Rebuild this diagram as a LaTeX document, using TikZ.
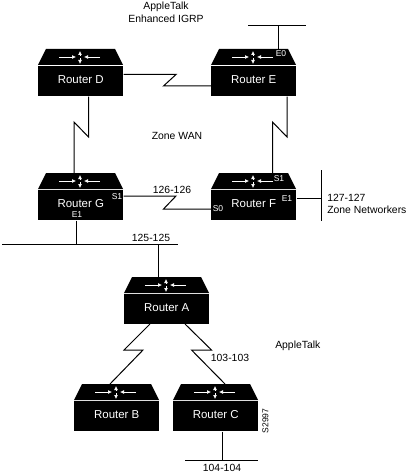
\documentclass[tikz,border=0pt]{standalone}
\usepackage{fontspec}
\setmainfont{Liberation Sans}
\usetikzlibrary{arrows.meta}
\tikzset{
  x=0.75pt,y=-0.75pt,
  link/.style={draw=black,line width=0.75pt,line join=miter},
  body/.style={fill=black,draw=none,text=white,minimum width=63.75pt,minimum height=22.5pt,inner sep=0pt,anchor=north west,font=\fontsize{8.6}{9}\selectfont},
  lid/.style={fill=black,draw=none},
  glyph/.style={draw=white,line width=0.55pt,-{Latex[length=3pt,width=3pt]}},
  lab/.style={inner sep=0pt,text=black,font=\fontsize{7.8}{9.5}\selectfont,align=center},
  tiny/.style={inner sep=0pt,font=\fontsize{6.4}{7}\selectfont},
}
\newcommand{\rtr}[4]{%
  \node[body] (#1) at (#2,#3+17) {\raisebox{3pt}{#4}};
  \fill[lid] (#2+8,#3) -- (#2+77,#3) -- (#2+85,#3+16) -- (#2,#3+16) -- cycle;
  \draw[glyph] (#2+21,#3+8) -- (#2+38,#3+8);
  \draw[glyph] (#2+62,#3+8) -- (#2+46,#3+8);
  \draw[glyph] (#2+42,#3+7) -- (#2+42,#3+2);
  \draw[glyph] (#2+42,#3+9) -- (#2+42,#3+15);
}
\begin{document}
\begin{tikzpicture}
\useasboundingbox (0,0) rectangle (410,474);
\rtr{D}{38}{49}{Router D}
\rtr{E}{211}{49}{Router E}
\rtr{G}{38}{173}{Router G}
\rtr{F}{211}{173}{Router F}
\rtr{A}{124}{277}{Router A}
\rtr{B}{74}{384}{Router B}
\rtr{C}{173}{384}{Router C}
% buses
\coordinate (busEl) at (248,26); \coordinate (busEr) at (306,26);
\coordinate (busGl) at (2,244); \coordinate (busGr) at (178,244);
\coordinate (busFt) at (321,170); \coordinate (busFb) at (321,221);
\coordinate (busCl) at (185,460); \coordinate (busCr) at (258,460);
\draw[link] (busEl) -- (busEr);
\draw[link] (busGl) -- (busGr);
\draw[link] (busFt) -- (busFb);
\draw[link] (busCl) -- (busCr);
% drops
\draw[link] (278,49) -- (278,26);
\draw[link] (G.south -| 76.5,0) -- (76.5,244);
\draw[link] (158.5,244) -- (158.5,277);
\draw[link] (F.east |- 0,198) -- (321,198);
\draw[link] (C.south -| 222,0) -- (222,460);
% serial links
\draw[link] (D.east |- 0,74.5) -- (176,74.5) -- (163.5,86) -- (E.west |- 0,86);
\draw[link] (D.south -| 88.5,0) -- (88.5,137) -- (74,122) -- (74,173);
\draw[link] (E.south -| 287,0) -- (287,137) -- (272.5,122) -- (272.5,173);
\draw[link] (G.east |- 0,196) -- (176,196) -- (163.5,209) -- (F.west |- 0,209);
\draw[link] (150,324) -- (124,350) -- (143,350) -- (110,384);
\draw[link] (185,324) -- (211.5,350) -- (191.5,350) -- (225,384);
% labels
\node[lab] (t1) at (166,12.5) {AppleTalk\\Enhanced IGRP};
\node[lab] (t2) at (177,136) {Zone WAN};
\node[lab] (t3) at (172,190) {126-126};
\node[lab] (t4) at (151,238) {125-125};
\node[lab,align=left,anchor=west] (t5) at (327,204) {127-127\\Zone Networkers};
\node[lab,anchor=west] (t6) at (275,346) {AppleTalk};
\node[lab] (t7) at (230,358) {103-103};
\node[lab] (t8) at (222,468) {104-104};
\node[tiny,text=white] (e0) at (281,54) {E0};
\node[tiny,text=white] (s1f) at (279,179) {S1};
\node[tiny,text=white] (e1f) at (287,199) {E1};
\node[tiny,text=white] (s0f) at (218,209) {S0};
\node[tiny,text=white] (s1g) at (117,197) {S1};
\node[tiny,text=white] (e1g) at (77,215) {E1};
\node[tiny,text=black,rotate=90] (id) at (265.5,421) {S2997};
\end{tikzpicture}
\end{document}
